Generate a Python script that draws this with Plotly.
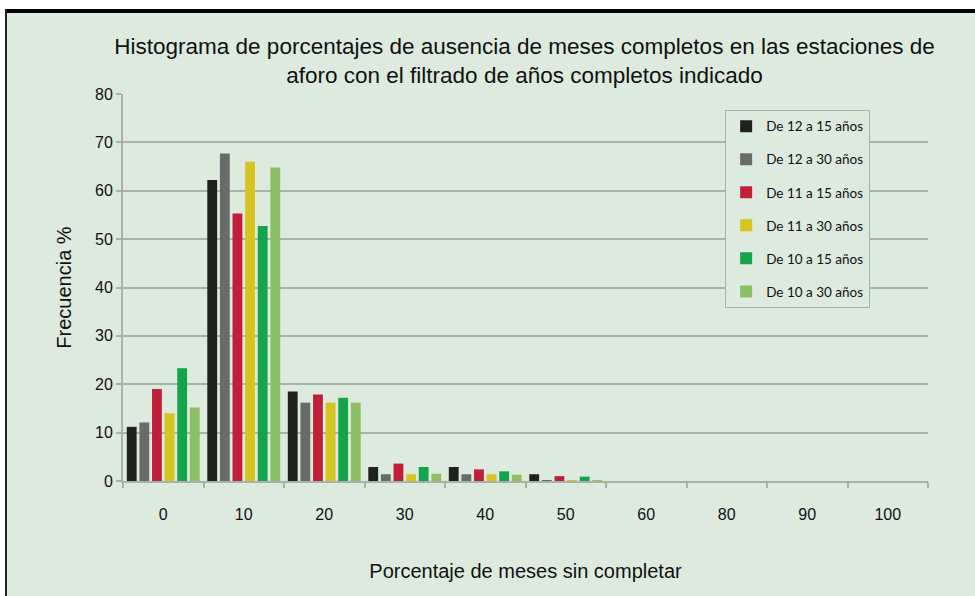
import plotly.graph_objects as go

categories = ["0", "10", "20", "30", "40", "50", "60", "80", "90", "100"]

series_names = [
    "De 12 a 15 años",
    "De 12 a 30 años",
    "De 11 a 15 años",
    "De 11 a 30 años",
    "De 10 a 15 años",
    "De 10 a 30 años",
]

v_12_15 = [11.2, 62.2, 18.5, 2.9, 2.9, 1.4, 0, 0, 0, 0]
v_12_30 = [12.1, 67.7, 16.2, 1.4, 1.4, 0.2, 0, 0, 0, 0]
v_11_15 = [19.0, 55.3, 17.9, 3.6, 2.4, 1.0, 0, 0, 0, 0]
v_11_30 = [14.0, 66.0, 16.2, 1.4, 1.4, 0.15, 0, 0, 0, 0]
v_10_15 = [23.3, 52.7, 17.2, 2.9, 2.0, 0.9, 0, 0, 0, 0]
v_10_30 = [15.2, 64.8, 16.2, 1.5, 1.3, 0.2, 0, 0, 0, 0]

series_values = [v_12_15, v_12_30, v_11_15, v_11_30, v_10_15, v_10_30]
colors = ["#1e211e", "#686c68", "#c01f38", "#d6c420", "#16a34e", "#8dbf67"]

BG = "#dcebde"
GRID = "#a7b3a8"
NARROW = "Liberation Sans Narrow, Liberation Sans, sans-serif"

fig = go.Figure()
for i, (name, vals, col) in enumerate(zip(series_names, series_values, colors)):
    fig.add_trace(go.Bar(
        x=categories, y=vals, name=name,
        marker=dict(color=col, line=dict(width=0)),
        legendgroup=f"g{i}",
    ))

fig.update_layout(
    width=975, height=596,
    barmode="group", bargap=0.06, bargroupgap=0.22,
    paper_bgcolor="white", plot_bgcolor=BG,
    margin=dict(l=123, r=47, t=94, b=115),
    title=dict(
        text="Histograma de porcentajes de ausencia de meses completos en las estaciones de<br>aforo con el filtrado de años completos indicado",
        x=0.538, xanchor="center", y=0.91, yanchor="top",
        font=dict(family=NARROW, size=22.5, color="#111"),
    ),
    font=dict(family=NARROW, size=16, color="#111"),
    xaxis=dict(
        type="category", tickson="boundaries", ticks="outside", ticklen=5,
        tickcolor=GRID, tickwidth=2,
        showline=True, linecolor=GRID, linewidth=2,
        showgrid=False, ticklabelstandoff=18,
        tickfont=dict(family=NARROW, size=16, color="#111"),
        title=dict(text="Porcentaje de meses sin completar", standoff=42,
                   font=dict(family=NARROW, size=20, color="#111")),
    ),
    yaxis=dict(
        range=[0, 80], dtick=10, ticks="outside", ticklen=5,
        tickcolor=GRID, tickwidth=2,
        showline=True, linecolor=GRID, linewidth=2,
        showgrid=True, gridcolor=GRID, gridwidth=1.5,
        zeroline=False,
        tickfont=dict(family=NARROW, size=16, color="#111"),
        title=dict(text="Frecuencia %", standoff=18,
                   font=dict(family=NARROW, size=20, color="#111")),
    ),
    legend=dict(
        x=0.748, y=0.959, xanchor="left", yanchor="top",
        bgcolor=BG, bordercolor="#a8b0a8", borderwidth=1,
        font=dict(family="Lato, DejaVu Sans, sans-serif", size=13.5, color="#111"),
        traceorder="grouped", tracegroupgap=12.5,
    ),
    shapes=[
        dict(type="rect", xref="paper", yref="paper",
             x0=-118/805, x1=1 + 47/805, y0=-115/387, y1=1 + 85/387,
             fillcolor=BG, line=dict(width=0), layer="below"),
        dict(type="line", xref="paper", yref="paper",
             x0=-118/805, x1=1 + 47/805, y0=1 + 83/387, y1=1 + 83/387,
             line=dict(color="black", width=4)),
        dict(type="line", xref="paper", yref="paper",
             x0=-117/805, x1=-117/805, y0=-115/387, y1=1 + 85/387,
             line=dict(color="#222", width=2)),
    ],
)

fig.write_html("out.html", config={"displayModeBar": False},
               post_script="document.body.style.margin='0';")
